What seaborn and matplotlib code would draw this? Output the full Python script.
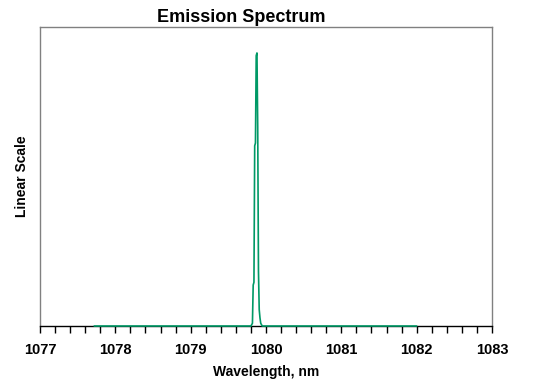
import matplotlib
matplotlib.use("Agg")
import matplotlib.pyplot as plt
import seaborn as sns
import pandas as pd
from matplotlib.ticker import MultipleLocator

# Spectrum samples
wavelength = [1077.72, 1079.80, 1079.82, 1079.83, 1079.84, 1079.85, 1079.86,
              1079.87, 1079.88, 1079.89, 1079.90, 1079.91, 1079.92, 1079.93,
              1079.95, 1082.00]
intensity = [0.0, 0.0, 0.01, 0.15, 0.16, 0.66, 0.67,
             0.99, 1.0, 0.73, 0.20, 0.06, 0.03, 0.01,
             0.0, 0.0]

df = pd.DataFrame({"wavelength": wavelength, "intensity": intensity})

sns.set_theme(style="white")
plt.rcParams["font.family"] = ["Liberation Sans", "DejaVu Sans"]
plt.rcParams["text.color"] = "black"
plt.rcParams["axes.labelcolor"] = "black"
plt.rcParams["xtick.color"] = "black"
plt.rcParams["xtick.labelcolor"] = "black"

fig = plt.figure(figsize=(5.38, 3.92), dpi=100)
ax = fig.add_axes([40 / 538, 1 - 326 / 392, 452 / 538, 299 / 392])

sns.lineplot(data=df, x="wavelength", y="intensity", ax=ax,
             color="#009966", linewidth=1.2, zorder=3, clip_on=False)

ax.set_xlim(1077, 1083)
ax.set_ylim(0, 1.095)
ax.set_yticks([])
ax.xaxis.set_major_locator(MultipleLocator(1))
ax.xaxis.set_minor_locator(MultipleLocator(0.2))
ax.tick_params(axis="x", which="both", direction="out", length=5, width=1,
               color="black", bottom=True, labelsize=10.5, pad=7)
for lab in ax.get_xticklabels():
    lab.set_fontweight("bold")

for side in ["left", "top", "right"]:
    ax.spines[side].set_color("#808080")
    ax.spines[side].set_linewidth(1)
ax.spines["bottom"].set_color("black")
ax.spines["bottom"].set_linewidth(1)

ax.set_xlabel("Wavelength, nm", fontweight="bold", fontsize=10, labelpad=6)
ax.set_ylabel("Linear Scale", fontweight="bold", fontsize=10, labelpad=8)
fig.text(241 / 538, 1 - 18 / 392, "Emission Spectrum", ha="center", va="center",
         fontsize=13, fontweight="bold")

fig.savefig("out.png", dpi=100)
